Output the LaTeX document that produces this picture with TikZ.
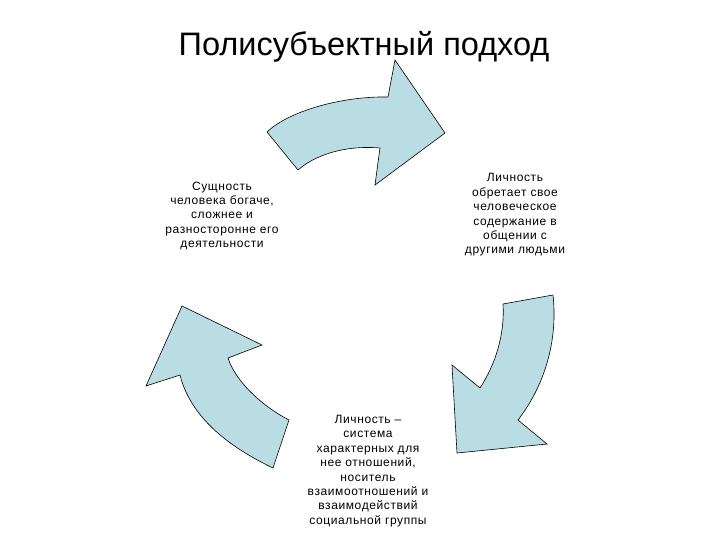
\documentclass[tikz,border=0pt]{standalone}
\usepackage{fontspec}
\setmainfont{Liberation Sans}
\newfontfamily\bodyfont[LetterSpace=5]{Liberation Sans}
\usetikzlibrary{positioning}
\definecolor{cyclFill}{HTML}{B9DDE3}

\begin{document}
\begin{tikzpicture}[x=1pt, y=-1pt,
  cycarrow/.style={draw=black, line width=0.6pt, fill=cyclFill, line join=miter},
  txt/.style={align=center, inner sep=0pt, font=\bodyfont\fontsize{12}{14.4}\selectfont}
]
\useasboundingbox (0,0) rectangle (720,540);
\node[font=\fontsize{32.5}{38}\selectfont] (title) at (364,47) {Полисубъектный подход};
% top arrow
\draw[cycarrow] (267,132) .. controls (290,110) and (345,96) .. (388,97)
  -- (395,60) -- (445,133) -- (375,185) -- (380,148)
  .. controls (345,145) and (315,155) .. (298,170) -- cycle;
% right arrow
\draw[cycarrow] (503,304) -- (553,295) .. controls (558,340) and (545,385) .. (518,420)
  -- (547,444) -- (457,453) -- (452,365) -- (480,388)
  .. controls (495,365) and (505,335) .. (503,304) -- cycle;
% left arrow
\draw[cycarrow] (273,468) .. controls (225,445) and (190,415) .. (180,375)
  -- (146,386) -- (182,306) -- (262,345) -- (228,358)
  .. controls (235,380) and (260,405) .. (289,420) -- cycle;
\node[txt] (essence) at (222,216) {Сущность\\человека богаче,\\сложнее и\\разносторонне его\\деятельности};
\node[txt] (content) at (515,215) {Личность\\обретает свое\\человеческое\\содержание в\\общении с\\другими людьми};
\node[txt] (system) at (368,471) {Личность –\\система\\характерных для\\нее отношений,\\носитель\\взаимоотношений и\\взаимодействий\\социальной группы};
\end{tikzpicture}
\end{document}
